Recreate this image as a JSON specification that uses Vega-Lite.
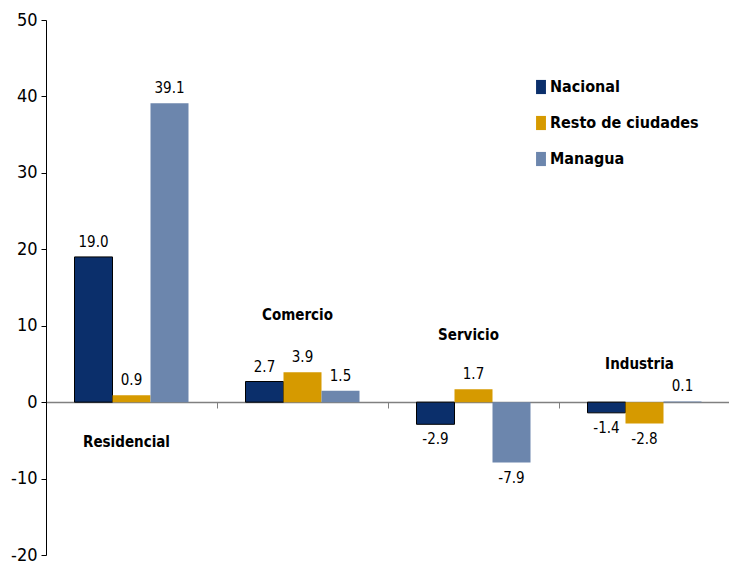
{
  "$schema": "https://vega.github.io/schema/vega-lite/v6.json",
  "width": 684,
  "height": 535,
  "autosize": "none",
  "padding": {"left": 46, "top": 20, "right": 0, "bottom": 8},
  "background": "white",
  "config": {
    "view": {"stroke": null},
    "font": "DejaVu Sans Condensed",
    "locale": {
      "number": {
        "decimal": ".",
        "thousands": ",",
        "grouping": [3],
        "currency": ["$", ""],
        "minus": "-"
      }
    }
  },
  "datasets": {
    "bars": [
      {"sector": "Residencial", "serie": "Nacional", "valor": 19.0},
      {"sector": "Residencial", "serie": "Resto de ciudades", "valor": 0.9},
      {"sector": "Residencial", "serie": "Managua", "valor": 39.1},
      {"sector": "Comercio", "serie": "Nacional", "valor": 2.7},
      {"sector": "Comercio", "serie": "Resto de ciudades", "valor": 3.9},
      {"sector": "Comercio", "serie": "Managua", "valor": 1.5},
      {"sector": "Servicio", "serie": "Nacional", "valor": -2.9},
      {"sector": "Servicio", "serie": "Resto de ciudades", "valor": 1.7},
      {"sector": "Servicio", "serie": "Managua", "valor": -7.9},
      {"sector": "Industria", "serie": "Nacional", "valor": -1.4},
      {"sector": "Industria", "serie": "Resto de ciudades", "valor": -2.8},
      {"sector": "Industria", "serie": "Managua", "valor": 0.1}
    ],
    "cats": [
      {"sector": "Residencial", "pos": -5.2},
      {"sector": "Comercio", "pos": 11.4},
      {"sector": "Servicio", "pos": 8.8},
      {"sector": "Industria", "pos": 5.0}
    ]
  },
  "encoding": {
    "x": {
      "field": "sector",
      "type": "nominal",
      "sort": ["Residencial", "Comercio", "Servicio", "Industria"],
      "scale": {"paddingInner": 0, "paddingOuter": 0},
      "axis": {
        "orient": "bottom",
        "offset": -153,
        "labels": false,
        "title": null,
        "tickBand": "extent",
        "domainColor": "#808080",
        "tickColor": "#808080",
        "tickSize": 6,
        "domainWidth": 1.5
      }
    }
  },
  "layer": [
    {
      "data": {"name": "bars"},
      "mark": {"type": "bar", "strokeWidth": 1},
      "encoding": {
        "xOffset": {
          "field": "serie",
          "type": "nominal",
          "sort": ["Nacional", "Resto de ciudades", "Managua"],
          "scale": {"paddingInner": 0, "paddingOuter": 0.75}
        },
        "y": {
          "field": "valor",
          "type": "quantitative",
          "scale": {"domain": [-20, 50], "nice": false, "zero": false},
          "axis": {
            "values": [-20, -10, 0, 10, 20, 30, 40, 50],
            "format": "d",
            "title": null,
            "grid": false,
            "domainColor": "black",
            "tickColor": "black",
            "tickSize": 5,
            "labelFontSize": 18,
            "labelColor": "black",
            "labelPadding": 4,
            "labelFont": "DejaVu Sans Condensed"
          }
        },
        "color": {
          "field": "serie",
          "type": "nominal",
          "sort": ["Nacional", "Resto de ciudades", "Managua"],
          "scale": {
            "domain": ["Nacional", "Resto de ciudades", "Managua"],
            "range": ["#0b2f6b", "#d69a00", "#6c86ad"]
          },
          "legend": {
            "title": null,
            "orient": "none",
            "legendX": 487,
            "legendY": 59,
            "symbolType": "M-0.7,-1H0.7V1H-0.7Z",
            "symbolSize": 200,
            "symbolStrokeWidth": 0,
            "labelFontSize": 16,
            "labelFontWeight": "bold",
            "labelColor": "black",
            "labelFont": "DejaVu Sans Condensed",
            "rowPadding": 20,
            "labelOffset": 1
          }
        },
        "stroke": {
          "condition": {"test": "datum.serie === 'Nacional'", "value": "black"},
          "value": null
        }
      }
    },
    {
      "data": {"name": "bars"},
      "transform": [{"filter": "datum.valor >= 0"}],
      "mark": {"type": "text", "baseline": "bottom", "dy": -7, "fontSize": 15, "color": "black"},
      "encoding": {
        "xOffset": {
          "field": "serie",
          "type": "nominal",
          "sort": ["Nacional", "Resto de ciudades", "Managua"],
          "scale": {"paddingInner": 0, "paddingOuter": 0.75}
        },
        "y": {"field": "valor", "type": "quantitative"},
        "text": {"field": "valor", "type": "quantitative", "format": ".1f"}
      }
    },
    {
      "data": {"name": "bars"},
      "transform": [{"filter": "datum.valor < 0"}],
      "mark": {"type": "text", "baseline": "top", "dy": 8, "fontSize": 15, "color": "black"},
      "encoding": {
        "xOffset": {
          "field": "serie",
          "type": "nominal",
          "sort": ["Nacional", "Resto de ciudades", "Managua"],
          "scale": {"paddingInner": 0, "paddingOuter": 0.75}
        },
        "y": {"field": "valor", "type": "quantitative"},
        "text": {"field": "valor", "type": "quantitative", "format": ".1f"}
      }
    },
    {
      "data": {"name": "cats"},
      "mark": {"type": "text", "fontSize": 15, "fontWeight": "bold", "color": "black", "dx": -5},
      "encoding": {
        "y": {"field": "pos", "type": "quantitative"},
        "text": {"field": "sector", "type": "nominal"}
      }
    }
  ]
}
